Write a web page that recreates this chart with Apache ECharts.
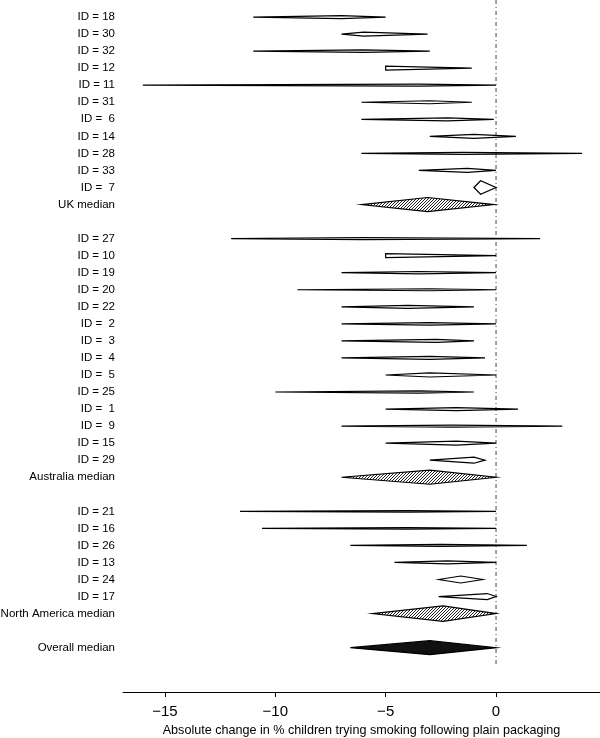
<!DOCTYPE html>
<html>
<head>
<meta charset="utf-8">
<script src="https://cdn.jsdelivr.net/npm/echarts@6/dist/echarts.min.js"></script>
<style>html,body{margin:0;padding:0;background:#fff}#c{width:600px;height:738px}</style>
</head>
<body>
<div id="c"></div>
<script>
// Row labels (top to bottom); '' marks a spacer row
var labels = ['ID = 18','ID = 30','ID = 32','ID = 12','ID = 11','ID = 31','ID =  6','ID = 14','ID = 28','ID = 33','ID =  7','UK median','',
  'ID = 27','ID = 10','ID = 19','ID = 20','ID = 22','ID =  2','ID =  3','ID =  4','ID =  5','ID = 25','ID =  1','ID =  9','ID = 15','ID = 29','Australia median','',
  'ID = 21','ID = 16','ID = 26','ID = 13','ID = 24','ID = 17','North America median','','Overall median'];
// Row kind: s = study, r = regional median, o = overall median, '' = spacer
var kinds = ['s','s','s','s','s','s','s','s','s','s','s','r','',
  's','s','s','s','s','s','s','s','s','s','s','s','s','s','r','',
  's','s','s','s','s','s','r','','o'];
var lower = [-11,-7,-11,-5,-16,-6.1,-6.1,-3,-6.1,-3.5,-1,-6.1,null,
  -12,-5,-7,-9,-7,-7,-7,-7,-5,-10,-5,-7,-5,-3,-7,null,
  -11.6,-10.6,-6.6,-4.6,-2.6,-2.6,-5.6,null,-6.6];
var estimate = [-7,-6,-6,-5,-3.5,-3,-2.2,-1,-1.5,-1.3,-0.7,-3.1,null,
  -6,-5,-3.5,-3,-4,-3,-2.7,-3,-3,-3.5,-1.8,-2,-1.8,-1,-3,null,
  -4,-4,-2.5,-2.2,-1.6,-0.4,-2.4,null,-3];
var upper = [-5,-3.1,-3,-1.1,0,-1.1,-0.1,0.9,3.9,0,0,-0.1,null,
  2,0,0,0,-1,0,-1,-0.5,0,-1,1,3,0,-0.5,0,null,
  0,0,1.4,0,-0.6,0,0,null,0];
// Relative study weight (drawn as diamond height)
var weight = [1.5,2,1.2,2,1,1.5,1.5,2,1,2,6.7,7,0,
  1,2,1.2,1,1.5,1.3,1.5,1.5,2,1.2,1.5,1,2,3,7,0,
  0.8,0.8,1,1.5,3.5,3,7.7,0,7];
var xTicks = [-15,-10,-5,0];
var xTitle = 'Absolute change in % children trying smoking following plain packaging';

var rowIdx = labels.map(function(_, i){ return i; });
var data = [];
for (var i = 0; i < labels.length; i++) {
  if (kinds[i]) data.push([i, lower[i], estimate[i], upper[i], weight[i], kinds[i]]);
}

// hatch pattern for regional medians
var pc = document.createElement('canvas');
pc.width = 3; pc.height = 3;
var g = pc.getContext('2d');
g.fillStyle = '#fff'; g.fillRect(0,0,3,3);
g.fillStyle = '#222';
g.fillRect(0,2,1,1); g.fillRect(1,1,1,1); g.fillRect(2,0,1,1);
var hatch = {image: pc, repeat: 'repeat'};

var chart = echarts.init(document.getElementById('c'), null, {renderer: 'canvas'});
chart.setOption({
  animation: false,
  grid: {left: 123, right: 0, top: 0, height: 692, outerBoundsMode: 'none', containLabel: false},
  xAxis: {
    type: 'value', min: -16.9, max: 4.71, position: 'bottom',
    axisLine: {show: true, onZero: false, lineStyle: {color: '#000', width: 1}},
    axisTick: {show: true, customValues: xTicks, length: 5, lineStyle: {color: '#000'}},
    axisLabel: {customValues: xTicks, color: '#000', fontSize: 15, margin: 12, fontFamily: 'Liberation Sans',
      formatter: function(v){ return String(v).replace('-', '\u2212'); }},
    splitLine: {show: false},
    name: xTitle, nameLocation: 'middle', nameGap: 31,
    nameTextStyle: {color: '#000', fontSize: 12.6, fontFamily: 'Liberation Sans'}
  },
  yAxis: {
    type: 'value', min: -1, max: 39.6, inverse: true, position: 'left',
    axisLine: {show: false, onZero: false}, axisTick: {show: false}, splitLine: {show: false},
    axisLabel: {customValues: rowIdx, color: '#000', fontSize: 11.5, margin: 8, fontFamily: 'Liberation Sans',
      formatter: function(v){ return labels[v] || ''; }}
  },
  series: [
    {
      type: 'line', data: [[0, -1], [0, 38.1]], symbol: 'none', silent: true,
      lineStyle: {color: '#444', width: 1, type: [4, 3, 1, 3]}, z: 1
    },
    {
      type: 'custom', data: data, z: 2,
      renderItem: function(params, api) {
        var y = api.value(0);
        var lo = api.coord([api.value(1), y]);
        var es = api.coord([api.value(2), y]);
        var hi = api.coord([api.value(3), y]);
        var h = api.size([0, api.value(4) / 17])[1];
        var kind = data[params.dataIndex][5];
        var fill = kind === 's' ? '#fff' : (kind === 'r' ? hatch : '#111');
        return {
          type: 'polygon',
          shape: {points: [[lo[0], lo[1]], [es[0], es[1] - h], [hi[0], hi[1]], [es[0], es[1] + h]]},
          style: {fill: fill, stroke: '#000', lineWidth: 1.2}
        };
      }
    }
  ]
});
</script>
</body>
</html>
